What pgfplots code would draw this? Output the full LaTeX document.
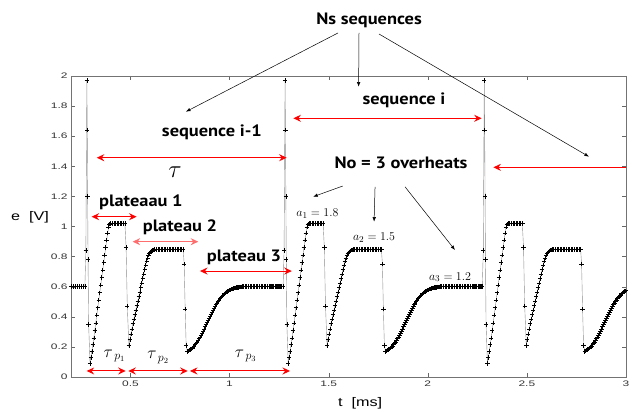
\documentclass[border=0pt]{standalone}
\usepackage{fontspec}
\setmainfont{Liberation Sans}
\newfontfamily\annfont{PT Sans}
\usepackage{graphicx}
\usepackage{pgfplots}
\usepackage{pgfplotstable}
\pgfplotsset{compat=1.18}
\usetikzlibrary{arrows.meta}
\definecolor{arrred}{RGB}{255,0,0}
\definecolor{arrpink}{RGB}{255,110,110}

% one sequence (three overheats), read off the first period
\pgfplotstableread{
t e
0.200 0.600
0.210 0.600
0.220 0.600
0.230 0.600
0.240 0.600
0.250 0.600
0.260 0.600
0.270 0.600
0.275 0.840
0.280 1.970
0.282 1.640
0.284 1.200
0.286 0.780
0.289 0.350
0.296 0.090
0.300 0.130
0.305 0.170
0.310 0.215
0.315 0.260
0.320 0.310
0.325 0.360
0.330 0.410
0.335 0.460
0.340 0.510
0.345 0.560
0.350 0.610
0.355 0.660
0.360 0.710
0.365 0.760
0.370 0.810
0.375 0.860
0.380 0.910
0.385 0.955
0.390 0.995
0.395 1.015
0.400 1.020
0.408 1.020
0.416 1.020
0.424 1.020
0.432 1.020
0.440 1.020
0.448 1.020
0.456 1.020
0.464 1.020
0.472 1.020
0.478 0.860
0.484 0.470
0.492 0.210
0.497 0.250
0.502 0.285
0.507 0.320
0.512 0.355
0.517 0.385
0.522 0.415
0.527 0.445
0.532 0.475
0.537 0.505
0.542 0.535
0.547 0.565
0.552 0.595
0.557 0.625
0.562 0.655
0.567 0.685
0.572 0.715
0.577 0.745
0.582 0.770
0.587 0.792
0.592 0.810
0.597 0.823
0.602 0.832
0.607 0.838
0.612 0.842
0.617 0.845
0.622 0.847
0.630 0.848
0.638 0.848
0.646 0.848
0.654 0.848
0.662 0.848
0.670 0.848
0.678 0.848
0.686 0.848
0.694 0.848
0.702 0.848
0.710 0.848
0.718 0.848
0.726 0.848
0.734 0.848
0.742 0.848
0.750 0.848
0.758 0.848
0.766 0.848
0.771 0.750
0.776 0.450
0.781 0.210
0.787 0.170
0.792 0.174
0.797 0.178
0.802 0.183
0.807 0.188
0.812 0.194
0.817 0.200
0.822 0.207
0.827 0.215
0.832 0.224
0.837 0.233
0.842 0.243
0.847 0.254
0.852 0.266
0.857 0.279
0.862 0.292
0.867 0.306
0.872 0.320
0.877 0.334
0.882 0.348
0.887 0.362
0.892 0.376
0.897 0.390
0.902 0.404
0.907 0.418
0.912 0.431
0.917 0.444
0.922 0.457
0.927 0.469
0.932 0.481
0.937 0.492
0.942 0.503
0.947 0.513
0.952 0.522
0.957 0.531
0.962 0.539
0.967 0.546
0.972 0.553
0.977 0.559
0.982 0.564
0.987 0.569
0.992 0.573
0.997 0.577
1.002 0.580
1.007 0.583
1.012 0.586
1.017 0.588
1.022 0.590
1.027 0.592
1.032 0.594
1.037 0.595
1.042 0.596
1.047 0.597
1.052 0.598
1.057 0.599
1.062 0.600
1.070 0.600
1.078 0.600
1.086 0.600
1.094 0.600
1.102 0.600
1.110 0.600
1.118 0.600
1.126 0.600
1.134 0.600
1.142 0.600
1.150 0.600
1.158 0.600
1.166 0.600
1.174 0.600
1.182 0.600
1.190 0.600
1.198 0.600
1.206 0.600
1.214 0.600
1.222 0.600
1.230 0.600
1.238 0.600
1.246 0.600
1.254 0.600
1.262 0.600
1.270 0.600
}\seqdata

\newcommand\ann[1]{\scalebox{1.12}[1]{#1}}

\begin{document}
\begin{tikzpicture}[
  redarr/.style={color=arrred, line width=1bp,
    {Stealth[length=7.5bp,width=7bp,inset=2.5bp]}-{Stealth[length=7.5bp,width=7bp,inset=2.5bp]}},
  redone/.style={color=arrred, line width=1bp, -{Stealth[length=7.5bp,width=7bp,inset=2.5bp]}},
  blkarr/.style={color=black, line width=0.5pt, -{Latex[length=4.5bp,width=3.5bp]}},
  ann/.style={font=\annfont\bfseries\fontsize{16.5}{18}\selectfont},
  serifann/.style={font=\fontsize{13}{15}\selectfont},
  taup/.style={font=\fontsize{17}{17}\selectfont},
]
\useasboundingbox (-71bp,-35bp) rectangle (561bp,377bp);
\begin{axis}[
  at={(0,0)}, anchor=south west,
  width=555bp, height=301bp, scale only axis,
  xmin=0.2, xmax=3, ymin=0, ymax=2,
  xtick={0.5,1,1.5,2,2.5,3},
  ytick={0,0.2,0.4,0.6,0.8,1,1.2,1.4,1.6,1.8,2},
  tick align=inside,
  major tick length=4bp,
  axis line style={black!55},
  tick style={black!60},
  /pgf/number format/assume math mode=true,
  xticklabel={\scalebox{1.5}[1]{\pgfmathprintnumber{\tick}}},
  yticklabel={\scalebox{1.5}[1]{\pgfmathprintnumber{\tick}}},
  ticklabel style={font=\fontsize{8}{9}\selectfont, text=black!80},
  xlabel={\scalebox{1.3}[1]{t\ \ [ms]}},
  ylabel={\scalebox{1.3}[1]{e\ \ [V]}},
  label style={font=\fontsize{12.5}{14}\selectfont},
  xlabel style={at={(rel axis cs:0.521,-0.086)}, anchor=center},
  ylabel style={rotate=-90, at={(rel axis cs:-0.074,0.532)}, anchor=center},
  clip mode=individual,
]
\addplot[black!45, line width=0.4pt, mark=+, mark size=2.2bp,
  mark options={black, line width=0.55pt}] table[x=t, y=e] {\seqdata};
\addplot[black!45, line width=0.4pt, mark=+, mark size=2.2bp,
  mark options={black, line width=0.55pt}] table[x expr=\thisrow{t}+1, y=e] {\seqdata};
\addplot[black!45, line width=0.4pt, mark=+, mark size=2.2bp,
  mark options={black, line width=0.55pt}] table[x expr=\thisrow{t}+2.005, y=e] {\seqdata};

% Ns sequences
\node[ann] at (1.704,2.372) {\ann{Ns sequences}};
\draw[blkarr] (1.547,2.286) -- (0.780,1.763);
\draw[blkarr] (1.653,2.286) -- (1.651,1.929);
\draw[blkarr] (1.754,2.279) -- (2.813,1.464);

% sequence i-1
\node[ann] at (0.911,1.628) {\ann{sequence i-1}};
\draw[redarr] (0.330,1.457) -- (1.288,1.457);
\node[font=\fontsize{24}{24}\selectfont] at (0.725,1.36) {$\tau$};

% plateaus
\node[ann] at (0.553,1.163) {\ann{plateaau 1}};
\draw[redarr] (0.304,1.065) -- (0.531,1.065);
\node[ann] at (0.750,0.997) {\ann{plateau 2}};
\draw[redarr, color=arrpink] (0.511,0.899) -- (0.842,0.899);
\node[ann] at (1.073,0.797) {\ann{plateau 3}};
\draw[redarr] (0.851,0.704) -- (1.314,0.704);

% plateau durations
\draw[redarr] (0.279,0.04) -- (0.476,0.04);
\draw[redarr] (0.489,0.04) -- (0.789,0.04);
\draw[redarr] (0.800,0.04) -- (1.305,0.04);
\node[taup] at (0.420,0.14) {$\tau_{\;p_1}$};
\node[taup] at (0.640,0.13) {$\tau_{\;p_2}$};
\node[taup] at (1.082,0.14) {$\tau_{\;p_3}$};

% sequence i
\node[ann] at (1.880,1.841) {\ann{sequence i}};
\draw[redarr] (1.322,1.719) -- (2.272,1.719);
\draw[redone] (3.0,1.393) -- (2.331,1.393);

% overheats
\node[ann] at (1.865,1.422) {\ann{No = 3 overheats}};
\draw[blkarr] (1.571,1.269) -- (1.422,1.198);
\draw[blkarr] (1.734,1.264) -- (1.729,1.032);
\draw[blkarr] (1.885,1.264) -- (2.137,0.844);
\node[serifann] at (1.443,1.083) {$a_1 = 1.8$};
\node[serifann] at (1.729,0.924) {$a_2 = 1.5$};
\node[serifann] at (2.112,0.664) {$a_3 = 1.2$};
\end{axis}
\end{tikzpicture}
\end{document}
